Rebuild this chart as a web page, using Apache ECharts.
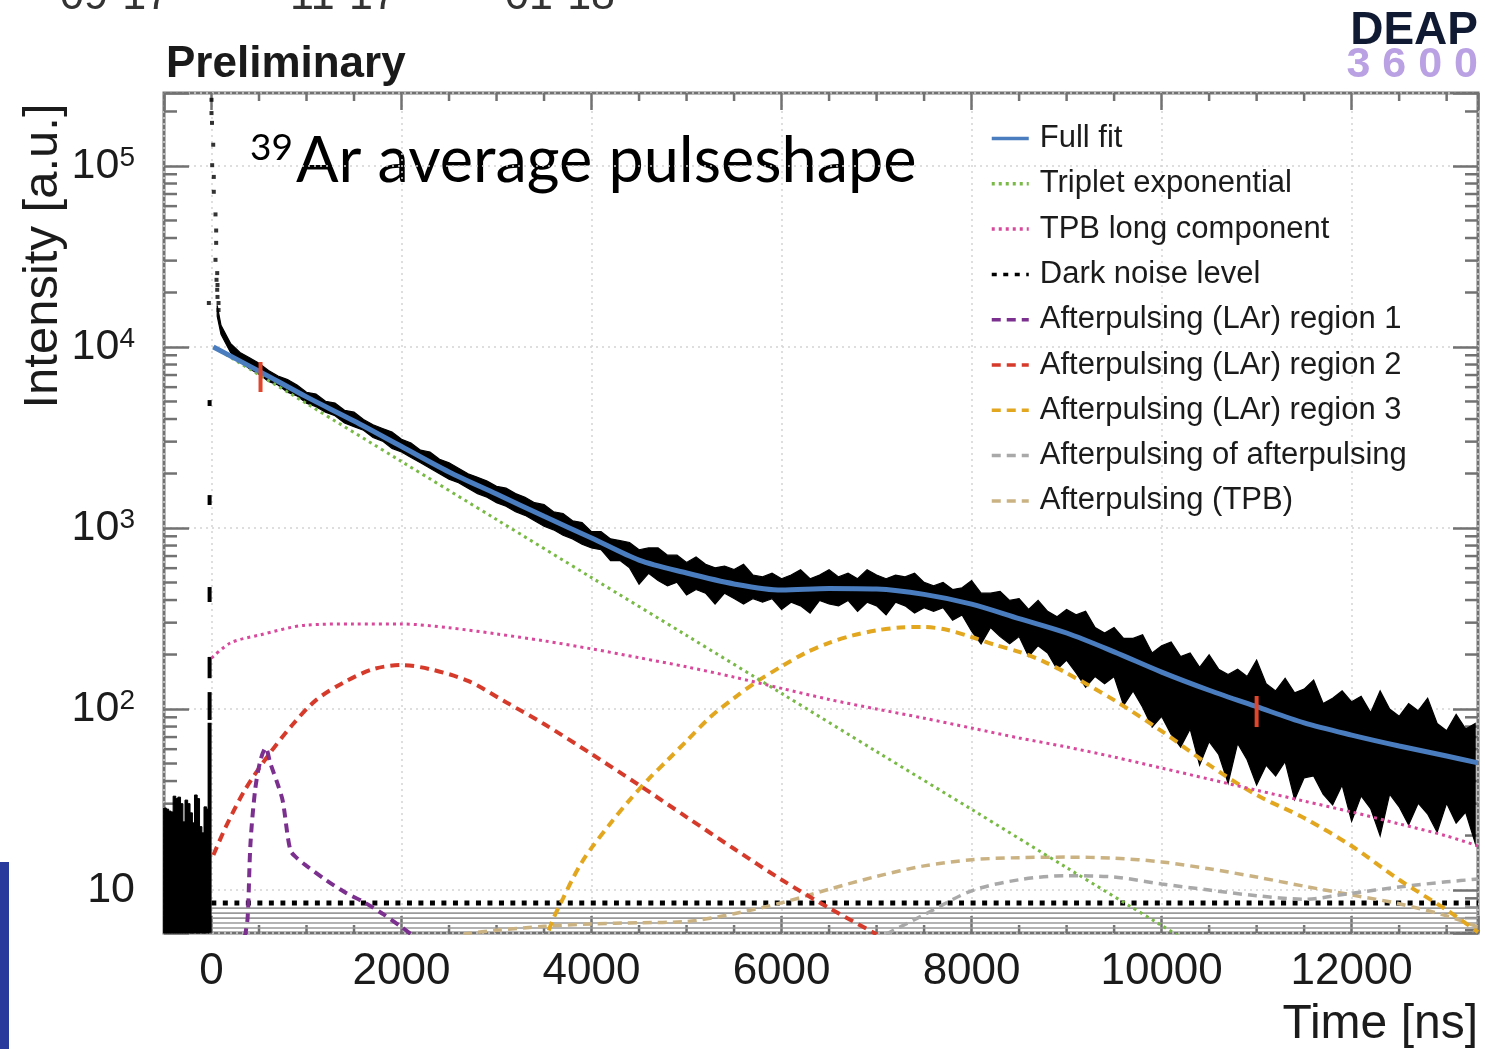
<!DOCTYPE html>
<html>
<head>
<meta charset="utf-8">
<script src="https://cdn.jsdelivr.net/npm/echarts@6/dist/echarts.min.js"></script>
<style>
html, body { margin: 0; padding: 0; background: #fff; }
#chart { width: 1485px; height: 1049px; }
</style>
</head>
<body>
<div id="chart"></div>
<script>
// axis range
var X_MIN = -500, X_MAX = 13330;
var Y_MIN = 5.79, Y_MAX = 2.53e5;

// full fit (blue), time in ns / intensity in a.u.
var fitTime = [20, 500, 1000, 1500, 2000, 2500, 3000, 3500, 4000, 4500, 5000, 5500, 6000, 6500, 7000,
    7500, 8000, 8500, 9000, 9500, 10000, 10500, 11000, 11500, 12000, 12500, 13000, 13330];
var fullFit = [10000, 7360, 5300, 3900, 2820, 2040, 1540, 1160, 881, 665, 564, 491, 454, 463, 460,
    430, 380, 316, 263, 207, 160, 127, 103, 83.8, 71.8, 62.5, 55.0, 50.4];

var tripletTime = [20, 1000, 2000, 3000, 4000, 5000, 6000, 7000, 8000, 9000, 10000, 10500];
var triplet = [10000, 4870, 2330, 1114, 532, 255, 122, 58.2, 27.9, 13.3, 6.37, 4.4];

var tpbTime = [0, 200, 500, 1000, 1500, 2000, 2500, 3000, 3500, 4000, 4500, 5000, 5500, 6000, 6500, 7000,
    7500, 8000, 8500, 9000, 9500, 10000, 10500, 11000, 11500, 12000, 12500, 13000, 13330];
var tpbLong = [191, 232, 256, 291, 295, 295, 281, 260, 238, 215, 192, 171, 150, 130, 113, 100,
    89, 78.5, 69.2, 61.7, 54.3, 47.2, 41.0, 35.6, 31.0, 27.0, 23.2, 19.9, 17.5];

var darkNoiseTime = [0, 13330];
var darkNoise = [8.47, 8.47];

var ap1Time = [350, 380, 410, 460, 515, 570, 620, 700, 750, 830, 900, 1000, 1200, 1400, 1600, 1800, 2000, 2100];
var ap1 = [5.5, 7.0, 18, 36, 52, 61, 50, 38, 31, 16.6, 15.0, 13.6, 11.4, 9.75, 8.6, 7.4, 6.25, 5.7];

var ap2Time = [20, 150, 350, 600, 850, 1100, 1400, 1700, 2000, 2300, 2700, 3100, 3500, 4000, 4500,
    5000, 5500, 6000, 6500, 7000];
var ap2 = [15.6, 22.3, 35.6, 55.7, 81.6, 112, 141, 166, 175, 166, 143, 109, 82.6, 56.4, 38.0,
    25.3, 16.9, 11.4, 7.96, 5.7];

var ap3Time = [3550, 3600, 3700, 3800, 3900, 4000, 4200, 4400, 4600, 4800, 5000, 5250, 5500, 5750, 6000,
    6250, 6500, 6750, 7000, 7250, 7500, 7750, 8000, 8250, 8500, 8750, 9000, 9500, 10000, 10500, 11000,
    11500, 12000, 12500, 13000, 13330];
var ap3 = [5.98, 7.0, 9.0, 11.5, 14.3, 17.1, 23.4, 31.4, 41.0, 52.2, 66.6, 90.3, 115, 143, 172,
    204, 232, 255, 272, 282, 284, 273, 250, 226, 207, 184, 158, 112, 75.5, 49.1, 33.5,
    25.0, 17.5, 11.4, 7.76, 5.86];

var apapTime = [7100, 7500, 8000, 8500, 9000, 9500, 10000, 10500, 11000, 11500, 12000, 12500, 13000, 13330];
var apap = [5.7, 7.3, 9.9, 11.4, 12.0, 11.8, 10.8, 10.0, 9.3, 8.9, 9.6, 10.4, 11.1, 11.5];

var apTpbTime = [2650, 3000, 3500, 4000, 4500, 5000, 5500, 6000, 6500, 7000, 7500, 8000, 8500, 9000,
    9500, 10000, 10500, 11000, 11500, 12000, 12500, 13000, 13330];
var apTpb = [5.7, 6.0, 6.3, 6.5, 6.6, 6.7, 7.4, 8.5, 10.1, 11.9, 13.6, 14.7, 15.1, 15.2,
    15.0, 14.3, 13.1, 11.8, 10.5, 9.4, 8.4, 7.2, 6.25];

// grey lines under the dark noise level
var floorLevels = [7.95, 7.46, 7.0, 6.57, 6.17];

// fit range markers: [time, low, high]
var fitRange = [[516, 5640, 8260], [11000, 79.5, 118]];

// measured pulseshape: band edges, log10 of intensity
var bandTime = [60, 100, 200, 300, 400, 500, 600, 700, 800, 900, 1000, 1100, 1200, 1300, 1400, 1500, 1600,
    1700, 1800, 1900, 2000, 2100, 2200, 2300, 2400, 2500, 2600, 2700, 2800, 2900, 3000, 3100, 3200, 3300,
    3400, 3500, 3600, 3700, 3800, 3900, 4000, 4100, 4200, 4300, 4400, 4500, 4600, 4700, 4800, 4900, 5000,
    5100, 5200, 5300, 5400, 5500, 5600, 5700, 5800, 5900, 6000, 6100, 6200, 6300, 6400, 6500, 6600, 6700,
    6800, 6900, 7000, 7100, 7200, 7300, 7400, 7500, 7600, 7700, 7800, 7900, 8000, 8100, 8200, 8300, 8400,
    8500, 8600, 8700, 8800, 8900, 9000, 9100, 9200, 9300, 9400, 9500, 9600, 9700, 9800, 9900, 10000,
    10100, 10200, 10300, 10400, 10500, 10600, 10700, 10800, 10900, 11000, 11100, 11200, 11300, 11400,
    11500, 11600, 11700, 11800, 11900, 12000, 12100, 12200, 12300, 12400, 12500, 12600, 12700, 12800,
    12900, 13000, 13100, 13200, 13300];
var bandHiLog = [4.23, 4.12, 4.02, 3.97, 3.94, 3.91, 3.87, 3.84, 3.82, 3.79, 3.75, 3.74, 3.70, 3.69, 3.65,
    3.64, 3.60, 3.57, 3.55, 3.53, 3.49, 3.47, 3.43, 3.42, 3.38, 3.36, 3.33, 3.30, 3.28, 3.26, 3.23, 3.22,
    3.19, 3.17, 3.14, 3.13, 3.09, 3.08, 3.04, 3.03, 2.98, 2.98, 2.94, 2.93, 2.92, 2.88, 2.89, 2.89, 2.85,
    2.85, 2.81, 2.84, 2.80, 2.78, 2.79, 2.77, 2.80, 2.74, 2.73, 2.75, 2.72, 2.74, 2.77, 2.72, 2.74, 2.77,
    2.73, 2.75, 2.72, 2.77, 2.74, 2.72, 2.74, 2.73, 2.75, 2.70, 2.68, 2.70, 2.66, 2.67, 2.71, 2.64, 2.64,
    2.65, 2.60, 2.61, 2.55, 2.60, 2.54, 2.51, 2.55, 2.52, 2.54, 2.45, 2.42, 2.45, 2.39, 2.39, 2.41, 2.31,
    2.35, 2.37, 2.29, 2.31, 2.23, 2.30, 2.22, 2.19, 2.22, 2.18, 2.27, 2.14, 2.10, 2.17, 2.09, 2.11, 2.16,
    2.03, 2.06, 2.10, 2.04, 2.07, 1.98, 2.10, 2.00, 1.96, 2.03, 1.99, 2.06, 1.92, 1.88, 1.97, 1.89, 1.92];
var bandLoLog = [4.17, 4.07, 3.97, 3.92, 3.88, 3.85, 3.81, 3.79, 3.75, 3.73, 3.69, 3.67, 3.64, 3.62, 3.58,
    3.56, 3.54, 3.50, 3.48, 3.44, 3.42, 3.39, 3.36, 3.33, 3.30, 3.27, 3.25, 3.22, 3.19, 3.17, 3.14, 3.12,
    3.09, 3.07, 3.04, 3.01, 2.99, 2.96, 2.94, 2.91, 2.89, 2.88, 2.82, 2.82, 2.78, 2.69, 2.75, 2.71, 2.68,
    2.70, 2.63, 2.66, 2.64, 2.58, 2.64, 2.61, 2.58, 2.61, 2.59, 2.61, 2.55, 2.59, 2.57, 2.53, 2.60, 2.58,
    2.57, 2.60, 2.54, 2.59, 2.57, 2.52, 2.59, 2.57, 2.53, 2.56, 2.54, 2.56, 2.49, 2.52, 2.43, 2.36, 2.45,
    2.40, 2.36, 2.40, 2.29, 2.35, 2.31, 2.22, 2.27, 2.20, 2.12, 2.18, 2.14, 2.18, 2.02, 2.10, 2.01, 1.90,
    1.96, 1.86, 1.79, 1.89, 1.69, 1.82, 1.75, 1.59, 1.81, 1.72, 1.58, 1.69, 1.63, 1.71, 1.50, 1.62, 1.63,
    1.53, 1.47, 1.58, 1.38, 1.52, 1.45, 1.30, 1.53, 1.46, 1.36, 1.48, 1.42, 1.32, 1.48, 1.37, 1.43, 1.26];

// pre-trigger noise (time, top)
var preTime = [-490, -465, -440, -415, -390, -365, -340, -315, -290, -265, -240, -215, -190, -165, -140,
    -115, -90, -65, -40];
var preTop = [28.4, 28, 27.3, 27, 33, 32, 32.6, 30, 23.8, 31.4, 30, 26.7, 23.5, 33.5, 32, 22.4, 20.7, 28.8, 28];

// rising edge pieces (time, low, high)
var edgeBins = [[-20, 5.8, 84], [-20, 87, 124], [-20, 148, 194], [-20, 390, 472], [-20, 1340, 1520],
    [-20, 4720, 5090]];

// prompt peak points (time, intensity)
var peakPoints = [[0, 2.32e5], [0, 1.96e5], [5, 1.73e5], [18, 1.31e5], [7, 1.01e5], [24, 8.7e4],
    [24, 7.2e4], [42, 5.4e4], [49, 4.4e4], [49, 3.76e4], [42, 3.03e4], [60, 2.56e4], [53, 2.35e4],
    [63, 2.2e4], [60, 2.07e4], [63, 1.89e4], [-28, 1.75e4], [74, 1.75e4], [74, 1.6e4]];

// minor ticks
var xMinorTicks = [500, 1000, 1500, 2500, 3000, 3500, 4500, 5000, 5500, 6500, 7000, 7500, 8500, 9000,
    9500, 10500, 11000, 11500, 12500, 13000];
var yMinorTicks = [6, 7, 8, 9, 20, 30, 40, 50, 60, 70, 80, 90, 200, 300, 400, 500, 600, 700, 800, 900,
    2000, 3000, 4000, 5000, 6000, 7000, 8000, 9000, 20000, 30000, 40000, 50000, 60000, 70000, 80000,
    90000, 200000];

var FONT = 'Liberation Sans';
var FRAME = '#727272';

function pairs(ts, vs) {
    return ts.map(function (t, i) { return [t, vs[i]]; });
}

function curve(name, ts, vs, color, width, type, z) {
    return {
        name: name,
        type: 'line',
        data: pairs(ts, vs),
        symbol: 'none',
        smooth: 0.3,
        clip: true,
        z: z || 3,
        lineStyle: { color: color, width: width, type: type },
        itemStyle: { color: color, opacity: 0 }
    };
}

var chart = echarts.init(document.getElementById('chart'));

var option = {
    animation: false,
    backgroundColor: '#fff',
    grid: { left: 164, right: 7, top: 93, bottom: 116, show: true, borderColor: FRAME, borderWidth: 3 },
    legend: {
        orient: 'vertical',
        left: 990,
        top: 123,
        padding: 0,
        itemWidth: 37,
        itemHeight: 14,
        itemGap: 14.3,
        selectedMode: false,
        itemStyle: { opacity: 0 },
        lineStyle: { width: 3.5 },
        textStyle: { fontFamily: FONT, fontSize: 31, lineHeight: 31, color: '#1b1b1b', padding: [0, 0, 0, 6] },
        data: ['Full fit', 'Triplet exponential', 'TPB long component', 'Dark noise level',
            'Afterpulsing (LAr) region 1', 'Afterpulsing (LAr) region 2', 'Afterpulsing (LAr) region 3',
            'Afterpulsing of afterpulsing', 'Afterpulsing (TPB)']
    },
    xAxis: [{
        type: 'value', min: X_MIN, max: X_MAX, splitNumber: 7,
        axisLine: { show: false, onZero: false },
        axisTick: { inside: true, length: 17, lineStyle: { color: FRAME, width: 2.5 } },
        axisLabel: {
            margin: 17, fontFamily: FONT, fontSize: 44, color: '#1b1b1b',
            formatter: function (v) { return (v % 2000 === 0) ? String(v) : ''; }
        },
        splitLine: { show: true, lineStyle: { color: '#d4d4d4', width: 1.5, type: [2, 4] } }
    }, {
        type: 'value', position: 'top', min: X_MIN, max: X_MAX, splitNumber: 7,
        axisLine: { show: false, onZero: false },
        axisTick: { inside: true, length: 17, lineStyle: { color: FRAME, width: 2.5 } },
        axisLabel: { show: false },
        splitLine: { show: false }
    }],
    yAxis: [{
        type: 'log', logBase: 10, min: Y_MIN, max: Y_MAX,
        axisLine: { show: false, onZero: false },
        axisTick: { inside: true, length: 25, lineStyle: { color: FRAME, width: 2.5 } },
        axisLabel: {
            margin: 29,
            formatter: function (v) {
                var l = Math.log10(v), k = Math.round(l);
                if (Math.abs(l - k) > 1e-6) return '';
                if (k === 1) return '{b|10}';
                return '{b|10}{s|' + k + '}';
            },
            rich: {
                b: { fontFamily: FONT, fontSize: 43, color: '#1b1b1b' },
                s: { fontFamily: FONT, fontSize: 28, color: '#1b1b1b', verticalAlign: 'top' }
            }
        },
        splitLine: { show: true, lineStyle: { color: '#d4d4d4', width: 1.5, type: [2, 4] } }
    }, {
        type: 'log', logBase: 10, min: Y_MIN, max: Y_MAX, position: 'right',
        axisLine: { show: false, onZero: false },
        axisTick: { inside: true, length: 25, lineStyle: { color: FRAME, width: 2.5 } },
        axisLabel: { show: false },
        splitLine: { show: false }
    }],
    graphic: [
        { type: 'rect', shape: { x: 0, y: 862, width: 9, height: 187 }, style: { fill: '#283a9c' } },
        { type: 'text', x: 60, y: 19, style: { text: '09-17', font: '43px "Liberation Sans"', fill: '#333', textVerticalAlign: 'bottom' } },
        { type: 'text', x: 290, y: 19, style: { text: '11-17', font: '43px "Liberation Sans"', fill: '#333', textVerticalAlign: 'bottom' } },
        { type: 'text', x: 505, y: 19, style: { text: '01-18', font: '43px "Liberation Sans"', fill: '#333', textVerticalAlign: 'bottom' } },
        { type: 'text', x: 166, y: 43, style: { text: 'Preliminary', font: 'bold 44px "Liberation Sans"', fill: '#1a1a1a' } },
        { type: 'text', x: 1478, y: 8, style: { text: 'DEAP', font: 'bold 46px "Liberation Sans"', fill: '#111a33', textAlign: 'right' } },
        { type: 'text', x: 1478, y: 44, style: { text: '3 6 0 0', font: 'bold 43px "Liberation Sans"', fill: '#b9a1e4', textAlign: 'right' } },
        {
            type: 'text', x: 250, y: 130,
            style: {
                text: '{s|39}{m|Ar average pulseshape}',
                rich: {
                    s: { fontFamily: 'Lato', fontSize: 37, fill: '#000', verticalAlign: 'top', padding: [0, 3, 0, 0] },
                    m: { fontFamily: 'Lato', fontSize: 63, fill: '#000' }
                }
            }
        },
        {
            type: 'text', x: 43, y: 256, rotation: Math.PI / 2,
            style: { text: 'Intensity [a.u.]', font: '49px "Liberation Sans"', fill: '#1b1b1b', textAlign: 'center', textVerticalAlign: 'middle' }
        },
        { type: 'text', x: 1478, y: 1001, style: { text: 'Time [ns]', font: '48px "Liberation Sans"', fill: '#1b1b1b', textAlign: 'right' } }
    ],
    series: [
        {
            type: 'custom', silent: true, z: 2,
            data: floorLevels.map(function (v) { return [0, v]; }),
            renderItem: function (params, api) {
                var a = api.coord([api.value(0), api.value(1)]);
                var b = api.coord([X_MAX, api.value(1)]);
                return { type: 'line', shape: { x1: a[0], y1: a[1], x2: b[0], y2: b[1] }, style: { stroke: '#9a9a9a', lineWidth: 1.6 } };
            }
        },
        {
            type: 'custom', silent: true, z: 2,
            data: bandTime.map(function (t, i) { return [t, Math.pow(10, bandHiLog[i]), Math.pow(10, bandLoLog[i])]; }),
            renderItem: function (params, api) {
                if (params.dataIndex !== 0) return null;
                var pts = [], i;
                for (i = 0; i < bandTime.length; i++) pts.push(api.coord([bandTime[i], Math.pow(10, bandHiLog[i])]));
                for (i = bandTime.length - 1; i >= 0; i--) pts.push(api.coord([bandTime[i], Math.pow(10, bandLoLog[i])]));
                return { type: 'polygon', shape: { points: pts }, style: { fill: '#000', stroke: '#000', lineWidth: 1.2 } };
            }
        },
        {
            type: 'custom', silent: true, z: 2,
            data: pairs(preTime, preTop),
            renderItem: function (params, api) {
                var a = api.coord([api.value(0) - 14, api.value(1)]);
                var b = api.coord([api.value(0) + 14, Y_MIN]);
                return { type: 'rect', shape: { x: a[0], y: a[1], width: b[0] - a[0], height: b[1] - a[1] }, style: { fill: '#000', stroke: '#000', lineWidth: 1 } };
            }
        },
        {
            type: 'custom', silent: true, z: 2,
            data: edgeBins,
            renderItem: function (params, api) {
                var a = api.coord([api.value(0), api.value(1)]);
                var b = api.coord([api.value(0), api.value(2)]);
                return { type: 'line', shape: { x1: a[0], y1: a[1], x2: b[0], y2: b[1] }, style: { stroke: '#000', lineWidth: 4 } };
            }
        },
        {
            type: 'scatter', silent: true, z: 2, symbol: 'rect', symbolSize: 4,
            data: peakPoints, itemStyle: { color: '#000' }
        },
        curve('Dark noise level', darkNoiseTime, darkNoise, '#000', 5, [5, 6.5], 3),
        curve('Afterpulsing (TPB)', apTpbTime, apTpb, '#cbb283', 3.5, [9, 6]),
        curve('Afterpulsing of afterpulsing', apapTime, apap, '#a9a9a9', 3.5, [9, 6]),
        curve('Afterpulsing (LAr) region 3', ap3Time, ap3, '#e2a61f', 4, [9, 6]),
        curve('Afterpulsing (LAr) region 2', ap2Time, ap2, '#d63a2a', 4, [9, 6]),
        curve('Afterpulsing (LAr) region 1', ap1Time, ap1, '#7b2f8e', 4, [9, 6]),
        curve('TPB long component', tpbTime, tpbLong, '#d8499c', 3, [3, 4]),
        curve('Triplet exponential', tripletTime, triplet, '#79b946', 3, [3, 4]),
        curve('Full fit', fitTime, fullFit, '#4a7dbf', 5, 'solid', 4),
        {
            type: 'custom', silent: true, z: 5,
            data: fitRange,
            renderItem: function (params, api) {
                var a = api.coord([api.value(0), api.value(1)]);
                var b = api.coord([api.value(0), api.value(2)]);
                return { type: 'line', shape: { x1: a[0], y1: a[1], x2: b[0], y2: b[1] }, style: { stroke: '#e0462b', lineWidth: 4 } };
            }
        },
        {
            type: 'custom', silent: true, z: 1,
            data: xMinorTicks.map(function (v) { return [v, Y_MIN]; }),
            renderItem: function (params, api) {
                var p = api.coord([api.value(0), Y_MIN]);
                var cs = params.coordSys;
                var top = cs.y, bottom = cs.y + cs.height;
                var st = { stroke: FRAME, lineWidth: 2.5 };
                return { type: 'group', children: [
                    { type: 'line', shape: { x1: p[0], y1: bottom, x2: p[0], y2: bottom - 8 }, style: st },
                    { type: 'line', shape: { x1: p[0], y1: top, x2: p[0], y2: top + 8 }, style: st }
                ] };
            }
        },
        {
            type: 'custom', silent: true, z: 1,
            data: yMinorTicks.map(function (v) { return [X_MIN, v]; }),
            renderItem: function (params, api) {
                var p = api.coord([X_MIN, api.value(1)]);
                var cs = params.coordSys;
                var left = cs.x, right = cs.x + cs.width;
                var st = { stroke: FRAME, lineWidth: 2.5 };
                return { type: 'group', children: [
                    { type: 'line', shape: { x1: left, y1: p[1], x2: left + 13, y2: p[1] }, style: st },
                    { type: 'line', shape: { x1: right, y1: p[1], x2: right - 13, y2: p[1] }, style: st }
                ] };
            }
        }
    ]
};

chart.setOption(option);
</script>
</body>
</html>
